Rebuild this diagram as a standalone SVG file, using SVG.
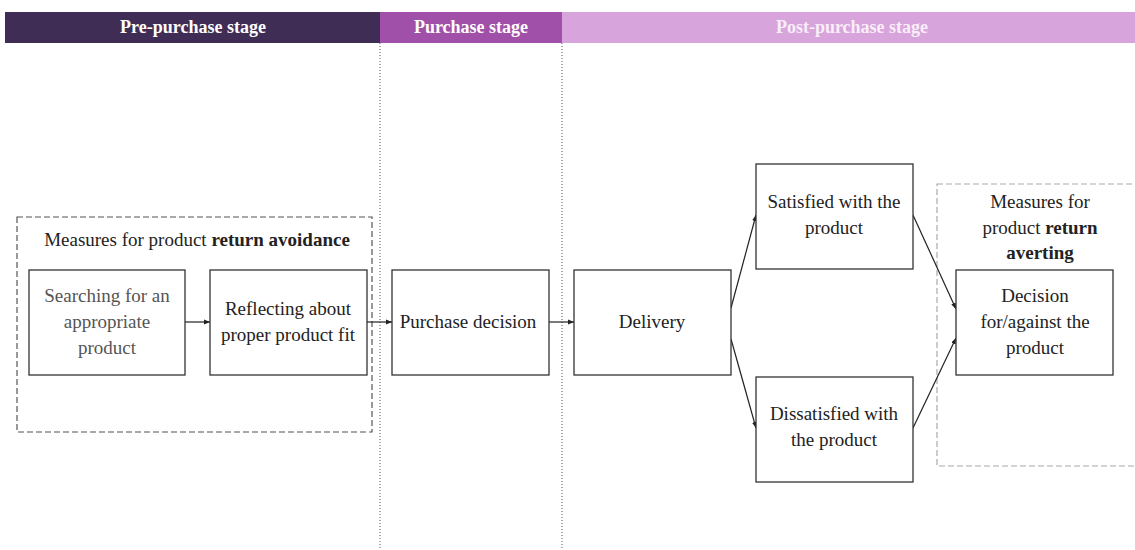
<svg xmlns="http://www.w3.org/2000/svg" width="1135" height="550" viewBox="0 0 1135 550" font-family="'Liberation Serif', 'DejaVu Serif', serif">
  <defs>
    <marker id="arrow" viewBox="0 0 10 10" refX="10" refY="5" markerWidth="6" markerHeight="6" orient="auto" markerUnits="userSpaceOnUse">
      <path d="M0,1 L10,5 L0,9 z" fill="#222"/>
    </marker>
    <style>
      text { font-family: 'Liberation Serif', 'DejaVu Serif', serif; }
      .stage { font-size: 18px; font-weight: bold; text-anchor: middle; }
      .box { fill: #fff; stroke: #333; stroke-width: 1.3; }
      .lbl { font-size: 19px; fill: #222; text-anchor: middle; }
      .grey { fill: #555; }
      .edge { stroke: #222; stroke-width: 1.2; fill: none; marker-end: url(#arrow); }
      .divider { stroke: #555; stroke-width: 1; stroke-dasharray: 1 2; }
    </style>
  </defs>

  <!-- stage header bar -->
  <g id="stages">
    <rect x="5" y="12" width="375" height="31" fill="#3f2d56"/>
    <rect x="380" y="12" width="182" height="31" fill="#a050a8"/>
    <rect x="562" y="12" width="573" height="31" fill="#d8a4dc"/>
    <text class="stage" x="193" y="33" fill="#fff">Pre-purchase stage</text>
    <text class="stage" x="471" y="33" fill="#fff">Purchase stage</text>
    <text class="stage" x="852" y="33" fill="#f8eef8">Post-purchase stage</text>
  </g>

  <!-- stage dividers -->
  <g id="dividers">
    <line class="divider" x1="380" y1="43" x2="380" y2="550"/>
    <line class="divider" x1="562" y1="43" x2="562" y2="550"/>
  </g>

  <!-- measure groupings -->
  <g id="avoidance">
    <rect x="17" y="217" width="355" height="215" fill="none" stroke="#555" stroke-width="1.2" stroke-dasharray="6 3"/>
    <text class="lbl" x="197" y="246">Measures for product <tspan font-weight="bold">return avoidance</tspan></text>
  </g>
  <g id="averting">
    <rect x="937" y="184" width="205" height="282" fill="none" stroke="#aaa" stroke-width="1.2" stroke-dasharray="6 3"/>
    <text class="lbl" x="1040" y="208">Measures for</text>
    <text class="lbl" x="1040" y="234">product <tspan font-weight="bold">return</tspan></text>
    <text class="lbl" x="1040" y="259" font-weight="bold">averting</text>
  </g>

  <!-- connectors -->
  <g id="connectors">
    <line class="edge" x1="185" y1="322" x2="210" y2="322"/>
    <line class="edge" x1="367" y1="322" x2="392" y2="322"/>
    <line class="edge" x1="549" y1="322" x2="574" y2="322"/>
    <line class="edge" x1="731" y1="308" x2="756" y2="215"/>
    <line class="edge" x1="731" y1="339" x2="756" y2="428"/>
    <line class="edge" x1="913" y1="215" x2="956" y2="309"/>
    <line class="edge" x1="913" y1="428" x2="956" y2="338"/>
  </g>

  <g id="searching">
    <rect class="box" x="29" y="270" width="156" height="105"/>
    <text class="lbl grey" x="107" y="302">Searching for an</text>
    <text class="lbl grey" x="107" y="328">appropriate</text>
    <text class="lbl grey" x="107" y="354">product</text>
  </g>
  <g id="reflecting">
    <rect class="box" x="210" y="270" width="157" height="105"/>
    <text class="lbl" x="288" y="315">Reflecting about</text>
    <text class="lbl" x="288" y="341">proper product fit</text>
  </g>
  <g id="purchase-decision">
    <rect class="box" x="392" y="270" width="157" height="105"/>
    <text class="lbl" x="468" y="328">Purchase decision</text>
  </g>
  <g id="delivery">
    <rect class="box" x="574" y="270" width="157" height="105"/>
    <text class="lbl" x="652" y="328">Delivery</text>
  </g>
  <g id="satisfied">
    <rect class="box" x="756" y="164" width="157" height="105"/>
    <text class="lbl" x="834" y="208">Satisfied with the</text>
    <text class="lbl" x="834" y="234">product</text>
  </g>
  <g id="dissatisfied">
    <rect class="box" x="756" y="377" width="157" height="105"/>
    <text class="lbl" x="834" y="420">Dissatisfied with</text>
    <text class="lbl" x="834" y="446">the product</text>
  </g>
  <g id="decision">
    <rect class="box" x="956" y="270" width="157" height="105"/>
    <text class="lbl" x="1035" y="302">Decision</text>
    <text class="lbl" x="1035" y="328">for/against the</text>
    <text class="lbl" x="1035" y="354">product</text>
  </g>
</svg>
